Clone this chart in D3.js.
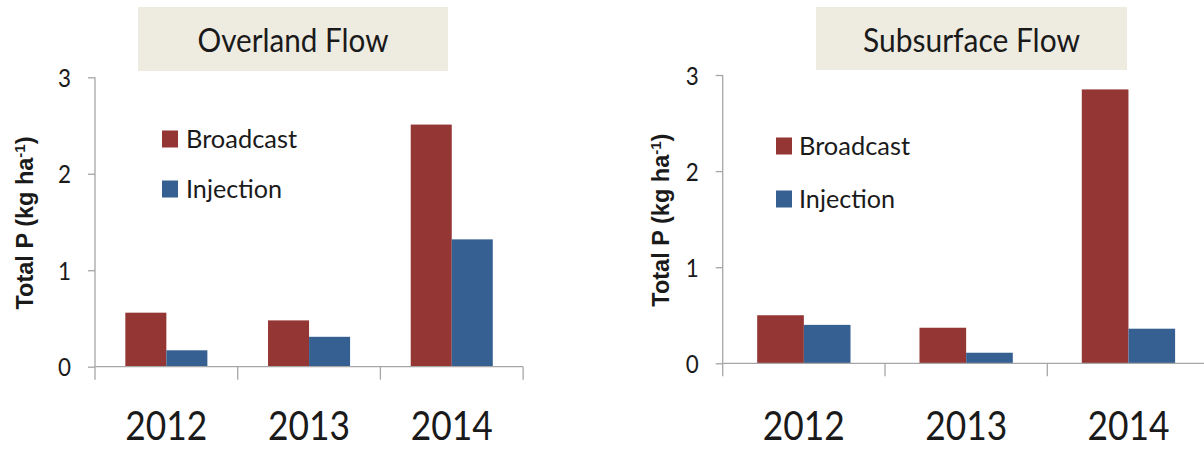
<!DOCTYPE html>
<html>
<head>
<meta charset="utf-8">
<script src="https://cdn.jsdelivr.net/npm/d3@7"></script>
<style>
  html, body { margin: 0; padding: 0; background: #fff; }
  svg { display: block; }
</style>
</head>
<body>
<svg id="chart" width="1204" height="449"></svg>
<script>
// ---------------- data ----------------
const years = ["2012", "2013", "2014"];
const seriesNames = ["Broadcast", "Injection"];
const overlandBroadcast = [0.56, 0.48, 2.51];
const overlandInjection = [0.17, 0.31, 1.32];
const subsurfaceBroadcast = [0.50, 0.37, 2.85];
const subsurfaceInjection = [0.40, 0.11, 0.36];
const yTicks = [0, 1, 2, 3];
const panelTitles = ["Overland Flow", "Subsurface Flow"];
const yTitleMain = "Total P (kg ha";
const yTitleSup = "-1";
const yTitleEnd = ")";

// ---------------- styles / layout ----------------
const colors = { Broadcast: "#943634", Injection: "#376092" };
const axisColor = "#a6a6a6";
const textColor = "#1a1a1a";
const font = "Lato, 'Noto Sans', sans-serif";

const panels = [
  {
    title: panelTitles[0], b: overlandBroadcast, i: overlandInjection,
    axisX: 95, step: 142.7, yTop: 77.3, yZero: 366.7,
    box: [138, 7, 310, 64], titleY: 52, titleLen: 191,
    legendX: 162, legendY: [130.5, 180.5], legendTextX: 186,
    yTitleX: 25, catBaseline: 440, catLen: 82
  },
  {
    title: panelTitles[1], b: subsurfaceBroadcast, i: subsurfaceInjection,
    axisX: 722.7, step: 162.3, yTop: 75, yZero: 363.3,
    box: [816, 7, 311, 63], titleY: 51.5, titleLen: 217,
    legendX: 776, legendY: [137.5, 190.5], legendTextX: 799,
    yTitleX: 661, catBaseline: 440, catLen: 82
  }
];

const svg = d3.select("#chart");

panels.forEach(p => {
  const g = svg.append("g");
  const xEnd = p.axisX + p.step * years.length;

  const x0 = d3.scaleBand().domain(years).range([p.axisX, xEnd])
    .paddingInner(0.425).paddingOuter(0.2125);
  const x1 = d3.scaleBand().domain(seriesNames).range([0, x0.bandwidth()]);
  const y = d3.scaleLinear().domain([0, 3]).range([p.yZero, p.yTop]);

  // title box
  g.append("rect").attr("x", p.box[0]).attr("y", p.box[1])
    .attr("width", p.box[2]).attr("height", p.box[3]).attr("fill", "#eeece1");
  g.append("text").attr("x", p.box[0] + p.box[2] / 2).attr("y", p.titleY)
    .attr("text-anchor", "middle").attr("font-family", font).attr("font-size", 32)
    .attr("fill", textColor).attr("textLength", p.titleLen)
    .attr("lengthAdjust", "spacingAndGlyphs").text(p.title);

  // y axis
  const yAxis = d3.axisLeft(y).tickValues(yTicks).tickSize(7).tickPadding(17)
    .tickFormat(d3.format("d"));
  const ya = g.append("g").attr("transform", `translate(${p.axisX},0)`).call(yAxis);
  ya.select(".domain").remove();
  ya.selectAll("line").attr("stroke", axisColor).attr("stroke-width", 1.3);
  ya.selectAll("text").attr("font-family", font).attr("font-size", 25)
    .attr("fill", textColor).attr("textLength", 13).attr("lengthAdjust", "spacingAndGlyphs")
    .attr("dy", "0.36em");
  g.append("line").attr("x1", p.axisX).attr("x2", p.axisX)
    .attr("y1", y(3)).attr("y2", y(0) + 13)
    .attr("stroke", axisColor).attr("stroke-width", 1.3);

  // bars
  const rows = years.map((yr, k) => ({ year: yr, Broadcast: p.b[k], Injection: p.i[k] }));
  const grp = g.selectAll(".grp").data(rows).enter().append("g")
    .attr("transform", d => `translate(${x0(d.year)},0)`);
  grp.selectAll("rect").data(d => seriesNames.map(s => ({ s, v: d[s] }))).enter()
    .append("rect")
    .attr("x", d => x1(d.s)).attr("width", x1.bandwidth())
    .attr("y", d => y(d.v)).attr("height", d => y(0) - y(d.v))
    .attr("fill", d => colors[d.s]);

  // x axis line and boundary ticks
  g.append("line").attr("x1", p.axisX).attr("x2", xEnd)
    .attr("y1", y(0)).attr("y2", y(0))
    .attr("stroke", axisColor).attr("stroke-width", 1.3);
  const bounds = years.map(yr => x0(yr) - x0.step() * x0.paddingOuter() + x0.step());
  g.selectAll(".xt").data(bounds).enter().append("line")
    .attr("x1", d => d).attr("x2", d => d)
    .attr("y1", y(0)).attr("y2", y(0) + 13)
    .attr("stroke", axisColor).attr("stroke-width", 1.3);

  // category labels
  g.selectAll(".cat").data(years).enter().append("text")
    .attr("x", d => x0(d) + x0.bandwidth() / 2).attr("y", p.catBaseline)
    .attr("text-anchor", "middle").attr("font-family", font).attr("font-size", 41)
    .attr("fill", textColor).attr("textLength", p.catLen)
    .attr("lengthAdjust", "spacingAndGlyphs").text(d => d);

  // legend
  seriesNames.forEach((s, k) => {
    g.append("rect").attr("x", p.legendX).attr("y", p.legendY[k])
      .attr("width", 16).attr("height", 17).attr("fill", colors[s]);
    g.append("text").attr("x", p.legendTextX).attr("y", p.legendY[k] + 17)
      .attr("font-family", font).attr("font-size", 25).attr("fill", textColor)
      .attr("textLength", s === "Broadcast" ? 111 : 96)
      .attr("lengthAdjust", "spacingAndGlyphs").text(s);
  });

  // y title
  const yt = g.append("text")
    .attr("transform", `translate(${p.yTitleX},${(p.yTop + p.yZero) / 2 + 1}) rotate(-90)`)
    .attr("text-anchor", "middle").attr("dy", "0.35em")
    .attr("font-family", "'Liberation Sans', Arial, sans-serif").attr("font-weight", "bold")
    .attr("font-size", 23.5).attr("fill", textColor);
  yt.append("tspan").text(yTitleMain);
  yt.append("tspan").attr("font-size", 15).attr("dy", "-0.55em").text(yTitleSup);
  yt.append("tspan").attr("dy", "0.35em").text(yTitleEnd);
});
</script>
</body>
</html>
